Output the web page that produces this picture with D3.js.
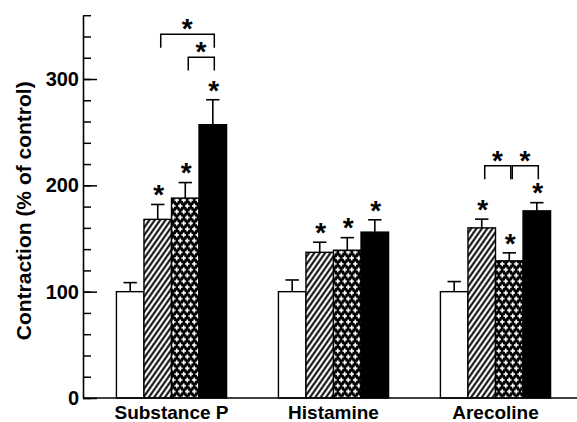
<!DOCTYPE html>
<html><head><meta charset="utf-8">
<script src="https://cdn.jsdelivr.net/npm/d3@7"></script>
<style>
body{margin:0;background:#fff}
svg{display:block}
text{font-family:"Liberation Sans",Arial,Helvetica,sans-serif;font-weight:bold;fill:#000}
</style>
</head><body>
<svg id="c" width="577" height="422"></svg>
<script>
// ---- data ----
const categories = ["Substance P", "Histamine", "Arecoline"];
const seriesKeys = ["control", "hatched", "crossed", "solid"];
const controlValues = [100, 100, 100];
const hatchedValues = [168, 137, 160];
const crossedValues = [188, 139, 129];
const solidValues   = [257, 156, 176];
const controlErrors = [8.5, 11, 9.5];
const hatchedErrors = [14, 9.5, 8.2];
const crossedErrors = [14.6, 11.8, 7.5];
const solidErrors   = [23.5, 11.6, 7.7];
const starredSeries = ["hatched", "crossed", "solid"];
const brackets = [
  {category: "Substance P", from: "hatched", to: "solid",   level: 342,   leg: 12.5},
  {category: "Substance P", from: "crossed", to: "solid",   level: 320.5, leg: 12.5},
  {category: "Arecoline",   from: "hatched", to: "crossed", level: 218.3, leg: 12.5},
  {category: "Arecoline",   from: "crossed", to: "solid",   level: 218.3, leg: 12.5}
];
const yMinorTicks = d3.range(0, 361, 20);
const yLabelTicks = [0, 100, 200, 300];
const yTitle = "Contraction (% of control)";

const valuesBySeries = {control: controlValues, hatched: hatchedValues, crossed: crossedValues, solid: solidValues};
const errorsBySeries = {control: controlErrors, hatched: hatchedErrors, crossed: crossedErrors, solid: solidErrors};

// ---- layout ----
const svg = d3.select("#c");
const axisX = 83, baseY = 398;
const y = d3.scaleLinear().domain([0, 360]).range([baseY, 15.2]);
const x0 = d3.scaleBand().domain(categories).range([90.5, 576.5]).paddingInner(0.32).paddingOuter(0.16);
const x1 = d3.scaleBand().domain(seriesKeys).range([0, x0.bandwidth()]);

// ---- patterns ----
const defs = svg.append("defs");
const hatch = defs.append("pattern").attr("id", "hatch").attr("patternUnits", "userSpaceOnUse")
  .attr("width", 4.4).attr("height", 4.4).attr("patternTransform", "rotate(35)");
hatch.append("rect").attr("width", 4.4).attr("height", 4.4).attr("fill", "#fff");
hatch.append("line").attr("x1", 2.2).attr("x2", 2.2).attr("y1", -1).attr("y2", 5.4)
  .attr("stroke", "#000").attr("stroke-width", 2);

const cw = 7, ch = 11.6;
const cross = defs.append("pattern").attr("id", "cross").attr("patternUnits", "userSpaceOnUse")
  .attr("width", cw).attr("height", ch);
cross.append("rect").attr("width", cw).attr("height", ch).attr("fill", "#000");
[[1.75, 2.9], [5.25, 8.7]].forEach(([px, py]) => {
  cross.append("rect").attr("x", px - 2.3).attr("y", py - 0.8).attr("width", 4.6).attr("height", 1.6).attr("fill", "#fff");
  cross.append("rect").attr("x", px - 0.8).attr("y", py - 2.3).attr("width", 1.6).attr("height", 4.6).attr("fill", "#fff");
});
// wrap-around copies for the left column crosses
[[1.75 + cw, 2.9], [5.25 - cw, 8.7]].forEach(([px, py]) => {
  cross.append("rect").attr("x", px - 2.3).attr("y", py - 0.8).attr("width", 4.6).attr("height", 1.6).attr("fill", "#fff");
});
const fills = {control: "#fff", hatched: "url(#hatch)", crossed: "url(#cross)", solid: "#000"};

// ---- y axis ----
const minor = svg.append("g").attr("transform", `translate(${axisX},0)`)
  .call(d3.axisLeft(y).tickValues(yMinorTicks).tickSizeInner(-8).tickSizeOuter(0).tickFormat(""));
minor.select(".domain").remove();
minor.selectAll("line").attr("stroke-width", 1.5);

const major = svg.append("g").attr("transform", `translate(${axisX},0)`)
  .call(d3.axisLeft(y).tickValues(yLabelTicks).tickSizeInner(-14).tickSizeOuter(0).tickPadding(4));
major.select(".domain").attr("stroke-width", 1.6);
major.selectAll("line").attr("stroke-width", 1.5);
major.selectAll("text").attr("font-size", 20).attr("font-family", null).attr("fill", "#000");

// ---- bars ----
const rows = [];
categories.forEach((c, i) => seriesKeys.forEach(k => rows.push({
  category: c, key: k, value: valuesBySeries[k][i], error: errorsBySeries[k][i]
})));
const cx = d => x0(d.category) + x1(d.key) + x1.bandwidth() / 2;

svg.append("g").selectAll("rect").data(rows).join("rect")
  .attr("x", d => x0(d.category) + x1(d.key))
  .attr("width", x1.bandwidth())
  .attr("y", d => y(d.value))
  .attr("height", d => y(0) - y(d.value))
  .attr("fill", d => fills[d.key])
  .attr("stroke", "#000").attr("stroke-width", 1.4);

// error bars
const eg = svg.append("g").attr("stroke", "#000").attr("stroke-width", 1.6);
eg.selectAll("line.v").data(rows).join("line").attr("class", "v")
  .attr("x1", cx).attr("x2", cx)
  .attr("y1", d => y(d.value)).attr("y2", d => y(d.value + d.error));
eg.selectAll("line.h").data(rows).join("line").attr("class", "h")
  .attr("x1", d => cx(d) - 6.7).attr("x2", d => cx(d) + 6.7)
  .attr("y1", d => y(d.value + d.error)).attr("y2", d => y(d.value + d.error));

// stars above bars
const starSize = 28, starRise = 0.6 * starSize;
svg.append("g").selectAll("text").data(rows.filter(d => starredSeries.includes(d.key))).join("text")
  .attr("x", d => cx(d) + 1)
  .attr("y", d => y(d.value + d.error) - 17 + starRise)
  .attr("text-anchor", "middle").attr("font-size", starSize).text("*");

// baseline
svg.append("line").attr("x1", axisX).attr("x2", 577).attr("y1", y(0)).attr("y2", y(0))
  .attr("stroke", "#000").attr("stroke-width", 1.6);

// brackets
const bx = (cat, key) => x0(cat) + x1(key) + x1.bandwidth() / 2;
const bg = svg.append("g");
bg.selectAll("path").data(brackets).join("path")
  .attr("fill", "none").attr("stroke", "#000").attr("stroke-width", 1.5)
  .attr("d", b => {
    const xa = bx(b.category, b.from) + 3, xb = bx(b.category, b.to) + 1.5;
    return `M${xa},${y(b.level - b.leg)}V${y(b.level)}H${xb}V${y(b.level - b.leg)}`;
  });
bg.selectAll("text").data(brackets).join("text")
  .attr("x", b => (bx(b.category, b.from) + bx(b.category, b.to)) / 2 + 2)
  .attr("y", b => y(b.level) - 13 + starRise)
  .attr("text-anchor", "middle").attr("font-size", starSize).text("*");

// ---- x labels ----
const xa = svg.append("g").attr("transform", `translate(0,${baseY})`)
  .call(d3.axisBottom(x0).tickSize(0).tickPadding(7.5));
xa.select(".domain").remove();
xa.selectAll("text").attr("font-size", 19).attr("font-family", null).attr("fill", "#000");

// ---- y title ----
svg.append("text").attr("transform", "translate(31,210.8) rotate(-90)")
  .attr("text-anchor", "middle").attr("font-size", 21).text(yTitle);
</script>
</body></html>
